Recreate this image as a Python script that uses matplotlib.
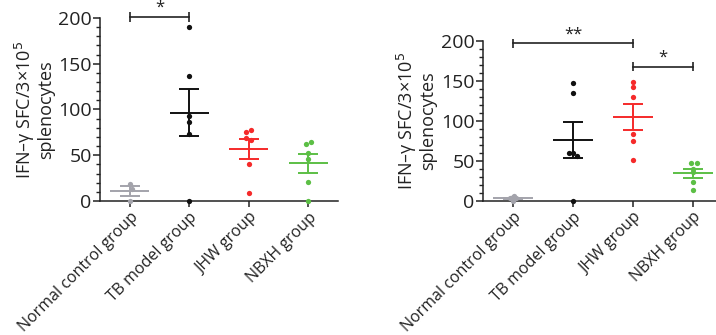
import matplotlib
matplotlib.use("Agg")
import matplotlib.pyplot as plt
from matplotlib.ticker import MultipleLocator
import numpy as np

plt.rcParams['font.family'] = ['Open Sans', 'DejaVu Sans']

# Data
groups = ["Normal control group", "TB model group", "JHW group", "NBXH group"]

left_values = [
    [18.5, 13.5, 0],
    [190, 137, 93, 86, 73.5, 0],
    [78, 75.7, 69, 67, 40.8, 9],
    [64, 62, 53, 46, 21, 0],
]
right_values = [
    [6, 4, 3, 3, 2, 0],
    [147.5, 134.6, 60, 60, 56, 0],
    [148, 142, 129, 83, 74, 51],
    [47.5, 47.5, 40, 36, 23, 13.4],
]

# significance brackets: (from group, to group, height, label)
left_sig = [(0, 1, 201, "*")]
right_sig = [(0, 2, 196.5, "**"), (2, 3, 167.5, "*")]

yticks = [0, 50, 100, 150, 200]

# layout / style
colors = ["#a3a3ab", "#111111", "#f52a2a", "#5cbf45"]
left_dx = [[0, 0.03, 0], [0, 0, 0, 0, 0, 0],
           [0.035, -0.04, -0.045, 0.03, 0, 0],
           [0.04, -0.04, 0, 0, 0, 0]]
right_dx = [[0.02, 0, -0.05, 0.05, 0, 0],
            [0, 0, -0.07, 0.0, 0.07, 0],
            [0, 0, 0, 0, 0, 0],
            [-0.04, 0.06, 0, 0, 0, 0]]


def draw_panel(ax, values, offsets, sig):
    for i, (vals, col) in enumerate(zip(values, colors)):
        vals = np.asarray(vals, dtype=float)
        mean = vals.mean()
        sem = vals.std(ddof=1) / np.sqrt(len(vals))
        xs = i + np.asarray(offsets[i][:len(vals)])
        ax.plot(xs, vals, 'o', color=col, markersize=3.8,
                markeredgewidth=0, clip_on=False, zorder=4)
        ax.hlines(mean, i - 0.33, i + 0.33, color=col, lw=1.4, zorder=3)
        ax.vlines(i, mean - sem, mean + sem, color=col, lw=1.4, zorder=3)
        ax.hlines([mean - sem, mean + sem], i - 0.17, i + 0.17,
                  color=col, lw=1.4, zorder=3)

    for a, b, h, lab in sig:
        ax.plot([a, b], [h, h], color="#222222", lw=1.2, clip_on=False)
        ax.vlines([a, b], h - 5.5, h + 5.5, color="#222222", lw=1.2,
                  clip_on=False)
        ax.text((a + b) / 2, h + 1.5, lab, ha='center', va='bottom',
                fontsize=12, color="#222222")

    ax.set_xlim(-0.5, 3.5)
    ax.set_ylim(0, 200)
    ax.set_yticks(yticks)
    ax.yaxis.set_minor_locator(MultipleLocator(10))
    ax.set_xticks(range(len(groups)))
    ax.set_xticklabels(groups, rotation=45, ha='right',
                       rotation_mode='anchor', fontsize=11.5)
    for s in ['top', 'right']:
        ax.spines[s].set_visible(False)
    for s in ['left', 'bottom']:
        ax.spines[s].set_linewidth(1.1)
        ax.spines[s].set_color("#222222")
    ax.tick_params(axis='y', which='major', length=5, width=1.1,
                   labelsize=14, pad=1, colors="#222222")
    ax.tick_params(axis='y', which='minor', length=3, width=1.0,
                   colors="#222222")
    ax.tick_params(axis='x', length=4, width=1.1, pad=2, colors="#222222")
    ax.set_ylabel("IFN\u2013\u03b3 SFC/3\u00d710$^5$\nsplenocytes",
                  fontsize=13, linespacing=1.0, color="#222222")


fig = plt.figure(figsize=(7.16, 3.35), dpi=100)
ax1 = fig.add_axes([0.1397, 0.400, 0.3324, 0.5463])
ax2 = fig.add_axes([0.6746, 0.401, 0.3352, 0.4776])

draw_panel(ax1, left_values, left_dx, left_sig)
draw_panel(ax2, right_values, right_dx, right_sig)
ax1.yaxis.labelpad = 2
ax2.yaxis.labelpad = 3

fig.savefig("out.png", dpi=100)
